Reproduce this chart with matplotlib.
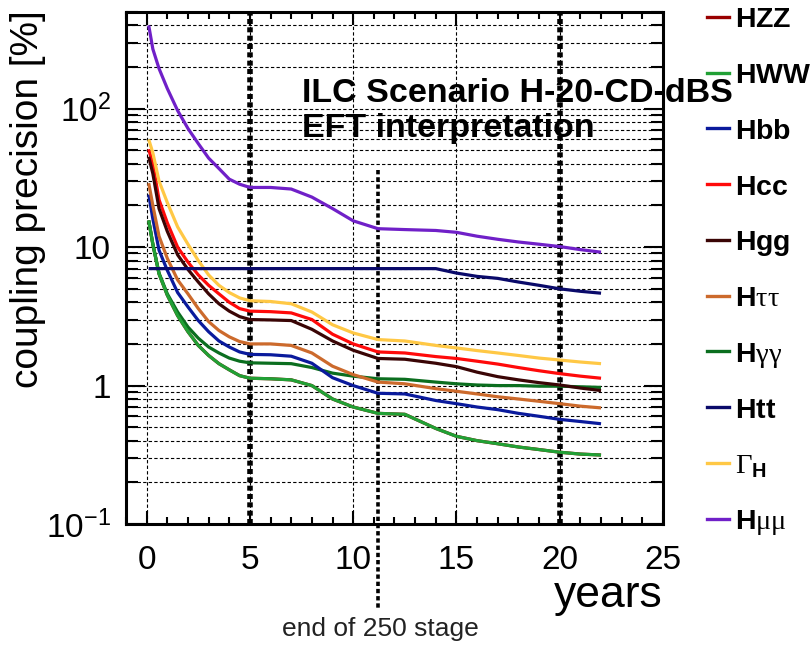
"""
ILC H-20 scenario: coupling precision vs. running time (EFT fit).
"""
import matplotlib
matplotlib.use("Agg")
import matplotlib.pyplot as plt
from matplotlib.lines import Line2D
from matplotlib.ticker import FixedLocator, MultipleLocator, LogLocator, NullFormatter

plt.rcParams.update({
    "font.family": ["Liberation Sans", "DejaVu Sans"],
    "mathtext.fontset": "custom",
    "mathtext.rm": "Liberation Sans",
    "mathtext.bf": "Liberation Sans:bold",
    "mathtext.it": "Liberation Sans:italic",
    "mathtext.sf": "Liberation Serif",
})

# ---- data ----
years = [0.1, 0.3, 0.6, 1.0, 1.5, 2.0, 2.5, 3.0, 3.5, 4.0, 4.5, 5.0, 6.0, 7.0,
         8.0, 9.0, 10.0, 11.2, 12.5, 14.0, 15.0, 16.0, 17.0, 18.0, 19.0, 20.0,
         21.0, 22.0]

h_ww = [15.6, 10.5, 6.4, 4.5, 3.2, 2.45, 1.95, 1.65, 1.44, 1.3, 1.18, 1.13, 1.12, 1.1,
        1.0, 0.8, 0.7, 0.63, 0.62, 0.49, 0.43, 0.40, 0.38, 0.36, 0.345, 0.33, 0.32, 0.315]
h_zz = list(h_ww)
h_bb = [24, 16, 9.5, 6.8, 4.7, 3.7, 2.95, 2.45, 2.1, 1.9, 1.75, 1.68, 1.67, 1.63,
        1.45, 1.14, 1.0, 0.88, 0.87, 0.78, 0.74, 0.70, 0.67, 0.63, 0.60, 0.57, 0.55, 0.53]
h_cc = [51, 40, 22, 15, 10, 7.8, 6.3, 5.3, 4.6, 4.0, 3.6, 3.45, 3.42, 3.35,
        3.0, 2.35, 2.0, 1.75, 1.72, 1.62, 1.57, 1.50, 1.43, 1.35, 1.28, 1.22, 1.17, 1.13]
h_gg = [45, 34, 19, 13, 8.8, 6.9, 5.6, 4.6, 3.9, 3.45, 3.15, 3.0, 2.98, 2.95,
        2.55, 2.1, 1.8, 1.57, 1.55, 1.45, 1.37, 1.25, 1.16, 1.10, 1.05, 1.01, 0.96, 0.92]
h_tautau = [29, 20, 12, 8.3, 5.8, 4.6, 3.6, 2.9, 2.5, 2.25, 2.08, 2.0, 2.0, 1.95,
            1.72, 1.38, 1.2, 1.06, 1.03, 0.95, 0.91, 0.87, 0.83, 0.80, 0.77, 0.74, 0.71, 0.69]
h_gamgam = [15.6, 10.5, 6.5, 4.6, 3.4, 2.65, 2.2, 1.9, 1.72, 1.58, 1.5, 1.46, 1.45, 1.44,
            1.35, 1.23, 1.17, 1.12, 1.11, 1.06, 1.03, 1.01, 1.0, 1.0, 0.99, 0.99, 0.98, 0.97]
h_tt = [7.0, 7.0, 7.0, 7.0, 7.0, 7.0, 7.0, 7.0, 7.0, 7.0, 7.0, 7.0, 7.0, 7.0,
        7.0, 7.0, 7.0, 7.0, 7.0, 7.0, 6.5, 6.15, 5.95, 5.6, 5.3, 5.0, 4.8, 4.65]
gamma_h = [60, 48, 30, 21, 14, 10.5, 8, 6.3, 5.3, 4.7, 4.3, 4.1, 4.05, 3.9,
           3.4, 2.75, 2.4, 2.15, 2.1, 1.95, 1.87, 1.79, 1.72, 1.65, 1.58, 1.53, 1.48, 1.44]
h_mumu = [400, 270, 195, 140, 97, 72, 56, 44, 37, 31, 28.5, 27, 27, 26.3,
          23, 19, 15.5, 13.6, 13.4, 13.2, 12.8, 12.0, 11.4, 10.9, 10.5, 10.1, 9.6, 9.2]

labels = [r"$\mathbf{HZZ}$", r"$\mathbf{HWW}$", r"$\mathbf{Hbb}$", r"$\mathbf{Hcc}$",
          r"$\mathbf{Hgg}$", r"$\mathbf{H}\mathsf{\tau\tau}$", r"$\mathbf{H}\mathsf{\gamma\gamma}$",
          r"$\mathbf{Htt}$", r"$\mathsf{\Gamma}_{\mathbf{H}}$", r"$\mathbf{H}\mathsf{\mu\mu}$"]
series = [h_zz, h_ww, h_bb, h_cc, h_gg, h_tautau, h_gamgam, h_tt, gamma_h, h_mumu]
colors = ["#990000", "#21a035", "#0a1a9c", "#ff0a0a", "#3a0505", "#cc6a2c",
          "#0b6e1f", "#0a0a6a", "#ffc845", "#7020c8"]
draw_order = [0, 6, 1, 2, 5, 3, 4, 8, 7, 9]

stage_lines = [5, 20]
end_250 = 11.2

fig = plt.figure(figsize=(8.12, 6.45), dpi=100)
ax = fig.add_axes([126 / 812, 1 - 524 / 645, 537 / 812, 512 / 645])

for i in draw_order:
    ax.plot(years, series[i], color=colors[i], lw=2.3, solid_capstyle="butt")

ax.set_yscale("log")
ax.set_xlim(-1, 25)
ax.set_ylim(0.1, 500)

# grid: dashed lines at major x ticks and at every log tick
for xv in [0, 5, 10, 15, 20]:
    ax.axvline(xv, color="black", lw=0.8, ls=(0, (3, 2)), zorder=0)
for dec in [0.1, 1, 10, 100]:
    for m in range(1, 10):
        yv = dec * m
        if 0.1 < yv < 500:
            ax.axhline(yv, color="black", lw=0.8, ls=(0, (3, 2)), zorder=0)

for xv in stage_lines:
    ax.axvline(xv, color="black", lw=4, ls=(0, (0.9, 0.6)), zorder=1)
ax.plot([end_250, end_250], [36, 0.024], color="black", lw=2.6,
        ls=(0, (1.2, 0.8)), clip_on=False, zorder=1)

ax.text(7.5, 112, "ILC Scenario H-20-CD-dBS", fontsize=24.5, fontweight="bold")
ax.text(7.5, 62, "EFT interpretation", fontsize=24.5, fontweight="bold")

ax.xaxis.set_major_locator(MultipleLocator(5))
ax.xaxis.set_minor_locator(MultipleLocator(1))
ax.yaxis.set_major_locator(FixedLocator([0.1, 1, 10, 100]))
ax.set_yticklabels([r"$10^{-1}$", "1", "10", r"$10^{2}$"])
ax.yaxis.set_minor_locator(LogLocator(base=10, subs=range(2, 10)))
ax.yaxis.set_minor_formatter(NullFormatter())

ax.tick_params(which="both", direction="in", top=True, right=True, width=1.5)
ax.tick_params(axis="x", which="major", length=9.5, labelsize=24, pad=15)
ax.tick_params(axis="x", which="minor", length=5)
ax.tick_params(axis="y", which="major", length=14, labelsize=24, pad=11)
ax.tick_params(axis="y", which="minor", length=8.5)
for sp in ax.spines.values():
    sp.set_linewidth(2.2)

fig.text(0.035, 1 - 10 / 645, "coupling precision [%]", rotation=90,
         ha="center", va="top", fontsize=28)
fig.text(663 / 812, 1 - 607 / 645, "years", ha="right", va="baseline", fontsize=32)
fig.text(380 / 812, 1 - 636 / 645, "end of 250 stage", ha="center", va="baseline",
         fontsize=19, color="#222222")

# legend drawn at the right, outside the frame
for i, lab in enumerate(labels):
    y = 1 - (16.7 + 55.8 * i) / 645
    fig.add_artist(Line2D([707 / 812, 729 / 812], [y, y], color=colors[i], lw=2.4))
    fig.text(735 / 812, y - 10.5 / 645, lab, fontsize=20.5, va="baseline", ha="left")

fig.savefig("out.png", dpi=100)
